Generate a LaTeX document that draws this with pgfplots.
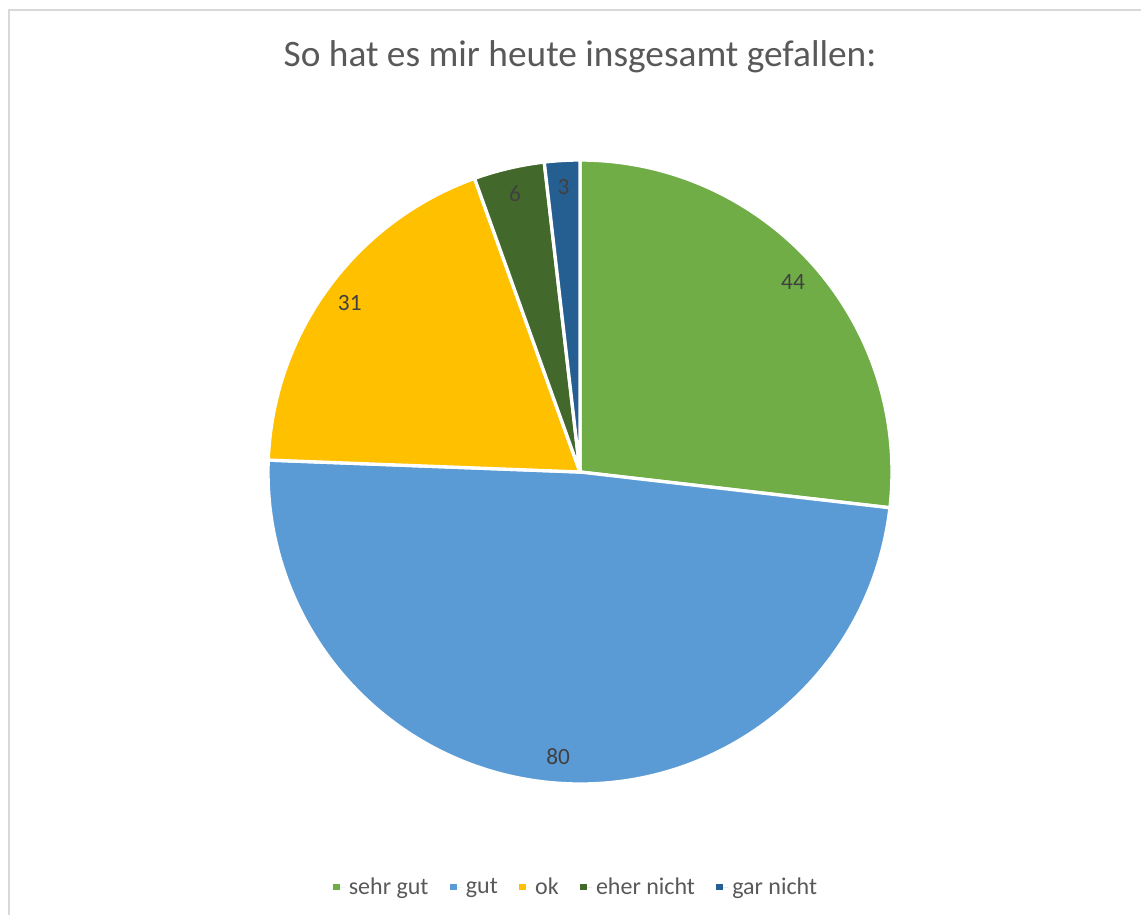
\documentclass[border=0pt]{standalone}
\usepackage{pgfplots}
\pgfplotsset{compat=1.18}
\usepackage{pgfplotstable}
\usepackage{fontspec}
\setmainfont{Carlito}
\definecolor{cA}{HTML}{70AD47}
\definecolor{cB}{HTML}{5B9BD5}
\definecolor{cC}{HTML}{FFC000}
\definecolor{cD}{HTML}{43682B}
\definecolor{cE}{HTML}{255E91}
\definecolor{titlecol}{HTML}{595959}
\definecolor{lblcol}{HTML}{404040}
\definecolor{framecol}{HTML}{D9D9D9}

\pgfplotstableread[col sep=comma]{
label,value,col
sehr gut,44,cA
gut,80,cB
ok,31,cC
eher nicht,6,cD
gar nicht,3,cE
}\piedata

\begin{document}
\begin{tikzpicture}
\begin{axis}[
  x=0.75pt, y=0.75pt,
  xmin=0, xmax=1141, ymin=0, ymax=915,
  hide axis, clip=false,
  legend columns=-1,
  legend image code/.code={\fill[#1] (0pt,-2.6pt) rectangle (5.2pt,2.6pt); \path (0pt,0pt) -- (9pt,0pt);},
  legend style={at={(axis cs:577,28)}, anchor=center, draw=none, fill=none,
    font=\fontsize{18}{21}\selectfont, text=titlecol,
    /tikz/every even column/.append style={column sep=13pt},
    inner sep=0pt, nodes={inner sep=3pt}},
]
\addlegendimage{fill=cA, draw=none}
\addlegendentry{sehr gut}
\addlegendimage{fill=cB, draw=none}
\addlegendentry{gut}
\addlegendimage{fill=cC, draw=none}
\addlegendentry{ok}
\addlegendimage{fill=cD, draw=none}
\addlegendentry{eher nicht}
\addlegendimage{fill=cE, draw=none}
\addlegendentry{gar nicht}

\pgfplotsextra{
  % frame
  \draw[framecol, line width=1.5pt] (axis cs:8.5,0) -- (axis cs:8.5,904.5) -- (axis cs:1141,904.5);
  % title
  \node[text=titlecol, font=\fontsize{28}{33}\selectfont] at (axis cs:580,858) {So hat es mir heute insgesamt gefallen:};
  % total
  \def\pietotal{0}
  \pgfplotsforeachungrouped \i in {0,...,4}{%
    \pgfplotstablegetelem{\i}{value}\of\piedata
    \pgfmathsetmacro\pietotal{\pietotal+\pgfplotsretval}%
  }%
  \def\piecum{0}
  \pgfplotsforeachungrouped \i in {0,...,4}{%
    \pgfplotstablegetelem{\i}{value}\of\piedata
    \let\sliceval=\pgfplotsretval
    \pgfplotstablegetelem{\i}{col}\of\piedata
    \let\slicecol=\pgfplotsretval
    \pgfmathsetmacro\angA{90-360*(\piecum/\pietotal)}%
    \pgfmathsetmacro\angB{90-360*((\piecum+\sliceval)/\pietotal)}%
    \filldraw[fill=\slicecol, draw=white, line width=2.5pt, line join=round]
      (axis cs:580,443) -- ++(\angA:234pt) arc[start angle=\angA, end angle=\angB, radius=234pt] -- cycle;
    \pgfmathsetmacro\piecum{\piecum+\sliceval}%
  }%
  \def\piecum{0}
  \pgfplotsforeachungrouped \i in {0,...,4}{%
    \pgfplotstablegetelem{\i}{value}\of\piedata
    \let\sliceval=\pgfplotsretval
    \pgfmathsetmacro\angM{90-360*((\piecum+\sliceval/2)/\pietotal)}%
    \path (axis cs:580,443) ++(\angM:214pt) node[text=lblcol, font=\fontsize{17.5}{20}\selectfont] {\sliceval};
    \pgfmathsetmacro\piecum{\piecum+\sliceval}%
  }%
}
\end{axis}
\pgfresetboundingbox
\useasboundingbox (current axis.south west) rectangle (current axis.north east);
\end{tikzpicture}
\end{document}
